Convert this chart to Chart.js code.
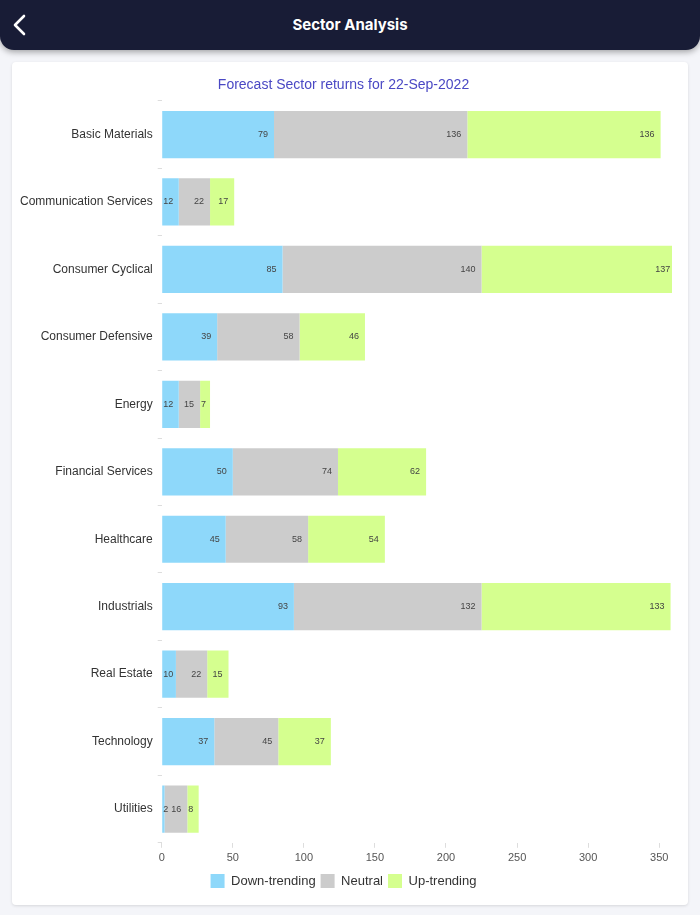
<!DOCTYPE html>
<html>
<head>
<meta charset="utf-8">
<script src="https://cdn.jsdelivr.net/npm/chart.js@4"></script>
<style>
  html, body { margin: 0; padding: 0; }
  body { width: 700px; height: 915px; background: #f4f5f9; position: relative; overflow: hidden; font-family: Inter, "Noto Sans", sans-serif; }
  .header { position: absolute; left: 0; top: 0; width: 700px; height: 50px; background: #181c36; border-radius: 0 0 14px 14px; box-shadow: 0 2px 6px rgba(0,0,0,0.35); }
  .header h1 { margin: 0; text-align: center; line-height: 50px; color: #fff; font-size: 15px; font-weight: 700; }
  .header svg { position: absolute; left: 12px; top: 14px; }
  .card { position: absolute; left: 12px; top: 62px; width: 676px; height: 843px; background: #fff; border-radius: 4px; box-shadow: 0 1px 3px rgba(0,0,0,0.12); }
</style>
</head>
<body>
<div class="header">
  <svg width="16" height="22" viewBox="0 0 16 22"><polyline points="12,2 3,11 12,20" fill="none" stroke="#fff" stroke-width="2.6" stroke-linecap="round" stroke-linejoin="round"/></svg>
  <h1>Sector Analysis</h1>
</div>
<div class="card"><canvas id="sector-chart"></canvas></div>
<script>
// 類別與數值
let sectors = ["Basic Materials", "Communication Services", "Consumer Cyclical", "Consumer Defensive", "Energy", "Financial Services", "Healthcare", "Industrials", "Real Estate", "Technology", "Utilities"];
let downTrending = [79, 12, 85, 39, 12, 50, 45, 93, 10, 37, 2];
let neutral = [136, 22, 140, 58, 15, 74, 58, 132, 22, 45, 16];
let upTrending = [136, 17, 137, 46, 7, 62, 54, 133, 15, 37, 8];
let xTicks = [0, 50, 100, 150, 200, 250, 300, 350];

let axisFont = '"Liberation Sans", Arial, sans-serif';

// 每段尾端寫數字 (太窄的段落就貼齊左邊)
let barLabels = {
    id: 'barLabels',
    afterDatasetsDraw(chart) {
        let ctx = chart.ctx;
        ctx.save();
        ctx.font = '9px ' + axisFont;
        ctx.fillStyle = '#444';
        ctx.textAlign = 'left';
        ctx.textBaseline = 'middle';
        chart.data.datasets.forEach((ds, i) => {
            chart.getDatasetMeta(i).data.forEach((bar, j) => {
                let text = String(ds.data[j]);
                let w = ctx.measureText(text).width;
                let x = Math.max(bar.x - 6 - w, bar.base + 1);
                ctx.fillText(text, x, bar.y);
            });
        });
        ctx.restore();
    }
};

let makeChart = () => {
    new Chart(document.getElementById('sector-chart'), {
        type: 'bar',
        data: {
            labels: sectors,
            datasets: [
                { label: 'Down-trending', data: downTrending, backgroundColor: '#8ed8fa' },
                { label: 'Neutral', data: neutral, backgroundColor: '#cccccc' },
                { label: 'Up-trending', data: upTrending, backgroundColor: '#d5ff8f' }
            ]
        },
        options: {
            indexAxis: 'y',
            responsive: true,
            maintainAspectRatio: false,
            animation: false,
            barPercentage: 0.7,
            categoryPercentage: 1.0,
            layout: { padding: { left: 3, right: 16, top: 0, bottom: 7 } },
            scales: {
                x: {
                    stacked: true,
                    min: 0,
                    max: 359,
                    afterBuildTicks: (axis) => { axis.ticks = xTicks.map(v => ({ value: v })); },
                    grid: { drawOnChartArea: false, tickLength: 5, color: '#dddddd' },
                    border: { display: false },
                    ticks: { color: '#555', font: { size: 11, family: axisFont }, padding: 4, maxRotation: 0 }
                },
                y: {
                    stacked: true,
                    grid: { drawOnChartArea: false, offset: true, tickLength: 4, color: '#dddddd' },
                    border: { display: false },
                    ticks: { color: '#333', font: { size: 12, family: axisFont }, padding: 5 }
                }
            },
            plugins: {
                title: {
                    display: true,
                    text: 'Forecast Sector returns for 22-Sep-2022',
                    color: '#4a48c4',
                    font: { size: 14, weight: 'normal', family: axisFont },
                    padding: { top: 15, bottom: 7 }
                },
                legend: {
                    position: 'bottom',
                    labels: { boxWidth: 14, boxHeight: 14, padding: 5, color: '#333', font: { size: 13, family: axisFont } }
                },
                tooltip: { enabled: false }
            }
        },
        plugins: [barLabels]
    });
}

makeChart();
</script>
</body>
</html>
